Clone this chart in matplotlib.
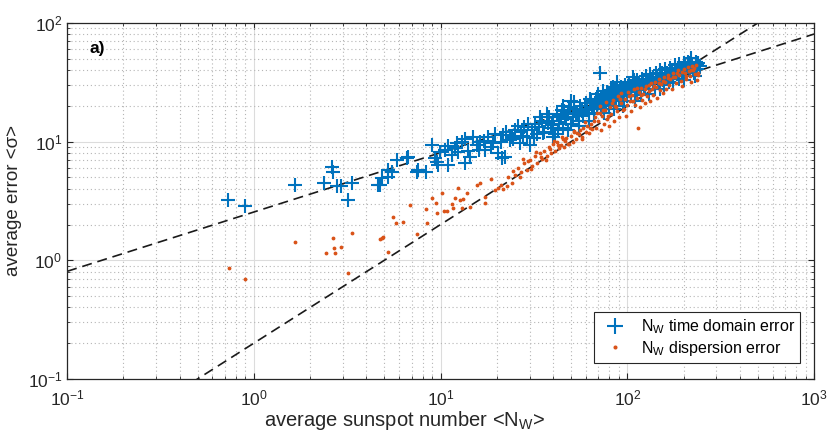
import numpy as np
import matplotlib
matplotlib.use("Agg")
import matplotlib.pyplot as plt

plt.rcParams['font.family'] = ['Liberation Sans', 'DejaVu Sans']
plt.rcParams['mathtext.fontset'] = 'custom'
plt.rcParams['mathtext.rm'] = 'Liberation Sans'
plt.rcParams['mathtext.it'] = 'Liberation Sans:italic'

# time domain error (blue crosses)
td_x = [0.73, 0.90, 1.66, 2.38, 2.62, 2.65, 2.79, 2.93, 3.36, 3.2, 4.63, 4.74, 4.85,
        5.2, 5.24, 5.5, 5.85, 6.6, 6.7, 7.5, 7.6, 8.4, 9.0, 9.3, 9.6, 9.7, 9.9,
        10.6, 10.9, 11.5, 12.3, 12.4, 13.0, 13.5, 14.4, 15.6, 16.3, 17.3, 18.0, 19.1,
        20.2, 21.3, 21.5, 22.0, 23.5, 24.0, 25.0, 26.5, 27.0, 28.0, 29.0, 30.0, 31.0,
        32.0, 33.0, 34.0, 35.0, 36.0, 37.5, 38.0, 39.0, 40.0, 40.0, 41.0, 42.0, 43.0,
        44.0, 45.0, 45.0, 46.0, 47.0, 48.0, 48.0, 50.0, 50.0, 51.0, 52.0, 52.0, 53.0,
        55.0, 55.0, 56.0, 57.0, 58.0, 60.0, 61.0, 62.0, 62.0, 64.0, 65.0, 66.0, 68.0,
        69.0, 70.0, 71.5, 72.0, 73.0, 75.0, 75.0, 76.0, 78.0, 79.0, 80.0, 82.0, 83.0,
        85.0, 85.0, 86.0, 88.0, 88.0, 90.0, 91.0, 93.0, 94.0, 95.0, 96.0, 97.0, 99.0,
        100.0, 102.0, 103.0, 105.0, 107.0, 108.0, 110.0, 110.0, 112.0, 113.0, 115.0,
        118.0, 120.0, 121.0, 124.0, 126.0, 128.0, 130.0, 130.0, 133.0, 135.0, 137.0,
        140.0, 142.0, 145.0, 147.0, 150.0, 150.0, 152.0, 155.0, 158.0, 160.0, 163.0,
        165.0, 168.0, 170.0, 173.0, 175.0, 176.0, 180.0, 182.0, 185.0, 188.0, 190.0,
        193.0, 196.0, 200.0, 200.0, 203.0, 206.0, 210.0, 213.0, 216.0, 220.0, 222.0,
        225.0, 228.0, 230.0, 232.0, 236.0, 240.0, 245.0,
        11.0, 12.0, 13.5, 14.0, 15.0, 16.0, 17.0, 18.5, 19.5, 21.0,
        22.5, 24.5, 26.0, 27.5, 29.5, 31.5, 33.5, 35.5, 37.0, 39.5,
        42.5, 44.5, 46.5, 49.0, 54.0, 59.0, 63.0, 67.0, 71.0, 74.0,
        77.0, 81.0, 84.0, 87.0, 92.0, 98.0, 104.0, 109.0, 116.0, 123.0,
        131.0, 138.0, 146.0, 154.0, 162.0, 171.0, 179.0, 187.0, 195.0, 205.0,
        215.0, 226.0, 235.0]
td_y = [3.2, 2.87, 4.3, 4.5, 6.1, 5.5, 4.2, 4.2, 4.5, 3.2, 4.3, 4.3, 4.9,
        5.0, 5.8, 5.5, 7.0, 7.3, 7.4, 5.5, 5.8, 5.5, 9.3, 7.3, 6.7, 6.3, 8.1,
        8.5, 6.3, 7.7, 9.8, 8.1, 9.9, 6.6, 7.4, 9.4, 9.9, 8.5, 10.9, 9.8,
        8.0, 7.3, 11.3, 7.4, 10.3, 11.0, 12.5, 9.8, 12.0, 13.2, 10.9, 9.4, 12.5,
        14.0, 11.5, 16.1, 15.0, 12.0, 14.4, 16.0, 13.0, 15.0, 11.0, 11.5, 17.0, 14.0,
        16.5, 13.0, 20.0, 18.0, 15.5, 17.0, 12.5, 14.0, 22.0, 16.0, 19.0, 21.5, 17.5,
        15.0, 13.5, 20.0, 18.0, 16.5, 21.0, 18.5, 17.0, 15.0, 22.0, 19.5, 17.5, 23.0,
        20.5, 25.0, 37.8, 19.0, 22.0, 24.0, 17.5, 21.0, 26.0, 23.0, 20.0, 27.0, 24.0,
        22.0, 19.0, 28.0, 31.8, 25.0, 23.0, 27.0, 29.0, 25.0, 20.0, 22.0, 30.0, 27.0,
        24.0, 31.0, 28.0, 26.0, 35.0, 32.0, 29.0, 22.0, 27.0, 33.0, 30.0,
        25.0, 34.0, 31.0, 28.0, 36.0, 33.0, 30.0, 25.0, 37.0, 34.0, 31.0,
        28.0, 38.0, 35.0, 32.0, 40.0, 28.0, 37.0, 33.0, 30.0, 41.0, 38.0,
        35.0, 32.0, 42.0, 39.0, 31.0, 36.0, 44.0, 40.0, 37.0, 34.0, 45.0,
        42.0, 38.0, 46.0, 33.0, 43.0, 39.0, 47.0, 44.0, 40.0, 51.0, 45.0,
        42.0, 38.0, 36.0, 47.0, 44.0, 46.0, 43.0,
        9.2, 8.8, 10.5, 8.3, 11.0, 8.5, 10.2, 9.0, 11.5, 10.0,
        12.0, 10.5, 13.5, 11.2, 14.0, 10.8, 13.2, 11.8, 17.0, 13.8,
        12.5, 18.5, 16.0, 19.5, 17.0, 19.0, 23.0, 21.0, 22.5, 26.5,
        20.5, 25.0, 29.0, 22.5, 26.0, 28.5, 24.0, 33.0, 28.0, 29.5,
        32.5, 35.0, 34.0, 37.5, 36.0, 40.0, 38.0, 42.0, 40.5, 41.0,
        46.0, 40.0, 41.0]

# dispersion error (red dots)
dp_x = [0.74, 0.90, 1.66, 2.44, 2.66, 2.69, 2.72, 2.93, 3.36, 3.2, 4.74, 4.85, 4.9,
        5.2, 5.55, 5.8, 6.3, 6.85, 7.5, 8.4, 8.5, 9.0, 9.5, 9.6,
        10.2, 10.4, 10.8, 11.5, 11.6, 11.9, 12.4, 12.7, 13.0, 13.2, 13.8, 14.3, 15.6,
        16.3, 17.2, 17.2, 20.2, 21.0, 21.5, 22.7, 24.0,
        25.0, 26.0, 27.0, 28.0, 29.0, 30.0, 31.0, 32.0, 33.0, 34.0, 35.0, 36.0, 37.0,
        38.0, 39.0, 40.0, 41.0, 42.0, 43.0, 44.0, 45.0, 46.0, 47.0, 48.0, 50.0, 51.0,
        52.0, 53.0, 55.0, 56.0, 57.0, 58.0, 60.0, 61.0, 62.0, 64.0, 65.0, 66.0,
        68.0, 69.0, 70.0, 71.0, 72.0, 73.0, 75.0, 76.0, 77.0, 78.0, 80.0, 81.0, 82.0,
        84.0, 85.0, 86.0, 88.0, 89.0, 90.0, 92.0, 93.0, 95.0, 97.0, 98.0, 100.0, 101.0,
        103.0, 105.0, 106.0, 108.0, 110.0, 112.0, 114.0, 115.0, 117.0, 119.0, 120.0,
        122.0, 124.0, 126.0, 128.0, 130.0, 132.0, 134.0, 136.0, 138.0, 140.0, 143.0,
        145.0, 147.0, 150.0, 152.0, 155.0, 157.0, 160.0, 162.0, 165.0, 168.0, 170.0,
        173.0, 176.0, 180.0, 183.0, 186.0, 190.0, 193.0, 196.0, 200.0, 203.0, 206.0,
        210.0, 213.0, 216.0, 220.0, 223.0, 226.0, 230.0, 233.0, 236.0, 240.0,
        18.5, 19.5, 23.0, 24.5, 26.5, 27.5, 29.5, 30.5, 32.5, 34.5,
        36.5, 38.5, 40.5, 42.5, 44.5, 46.5, 49.0, 51.5, 54.0, 57.5,
        59.0, 63.0, 67.0, 71.5, 74.0, 79.0, 83.0, 87.0, 91.0, 96.0,
        102.0, 107.0, 113.0, 118.0, 125.0, 131.0, 139.0, 148.0, 156.0, 166.0,
        175.0, 185.0, 195.0, 205.0, 218.0, 228.0, 238.0]
dp_y = [0.86, 0.70, 1.43, 1.15, 1.54, 1.27, 1.15, 1.29, 1.70, 0.78, 1.51, 1.54, 1.58,
        1.17, 2.32, 2.06, 2.1, 2.92, 1.67, 2.7, 2.06, 3.35, 3.05, 2.5,
        3.7, 2.6, 2.6, 3.0, 2.75, 3.35, 4.06, 3.2, 2.76, 3.3, 3.7, 2.8, 4.3,
        4.5, 3.05, 3.4, 4.06, 4.3, 4.0, 4.2, 4.5,
        5.2, 6.0, 5.5, 6.6, 5.8, 7.0, 6.2, 7.5, 6.6, 8.0, 7.1, 8.4, 7.6,
        9.0, 8.0, 9.5, 8.3, 10.0, 8.8, 9.3, 10.5, 9.0, 10.8, 9.6, 11.2, 10.0,
        12.0, 10.6, 11.5, 12.6, 11.0, 13.0, 12.0, 13.5, 11.8, 14.0, 12.8, 15.0,
        13.0, 17.5, 15.0, 20.0, 12.5, 16.5, 14.0, 18.5, 21.5, 15.5, 13.5, 19.5, 17.0,
        22.5, 15.0, 20.0, 18.0, 24.0, 16.0, 21.0, 25.5, 18.5, 23.0, 16.5, 20.5, 26.0,
        22.0, 18.0, 24.5, 27.5, 20.5, 23.5, 13.0, 26.0, 19.5, 28.5, 22.5,
        25.0, 21.0, 29.5, 24.0, 26.5, 22.0, 31.0, 27.5, 24.5, 32.0, 29.0,
        23.5, 34.0, 27.0, 30.5, 25.5, 35.0, 32.0, 28.0, 36.5, 30.0, 33.5,
        27.5, 38.0, 35.0, 31.0, 40.0, 36.5, 32.5, 29.5, 41.0, 38.0, 34.0,
        42.5, 39.0, 35.5, 31.5, 43.5, 40.0, 37.0, 44.0, 33.0, 38.0,
        4.8, 3.9, 5.0, 5.6, 5.0, 7.2, 6.8, 5.9, 8.2, 7.4,
        7.0, 8.6, 10.2, 9.4, 11.0, 10.2, 9.5, 12.3, 11.8, 10.5,
        14.5, 13.0, 16.0, 17.5, 18.5, 16.5, 21.0, 19.5, 23.0, 19.0,
        24.0, 22.0, 28.5, 24.5, 27.5, 30.0, 29.5, 31.0, 32.5, 34.5,
        35.0, 37.5, 38.5, 36.0, 40.5, 42.0, 36.5]

blue = '#0072BD'
red = '#D95319'
axcol = '#262626'

fig = plt.figure(figsize=(8.29, 4.33), dpi=100)
ax = fig.add_axes([0.081, 0.125, 0.901, 0.822])

# reference power laws
xf = np.array([0.1, 1000.0])
ax.plot(xf, 2.55 * np.sqrt(xf), color='#1a1a1a', lw=1.2, dashes=(6, 3.5), zorder=2)
ax.plot(xf, 0.2 * xf, color='#1a1a1a', lw=1.2, dashes=(6, 3.5), zorder=2)

ax.plot(td_x, td_y, '+', color=blue, ms=10, mew=1.5, ls='none', zorder=3,
        label=r'N$_{\mathrm{W}}$ time domain error')
ax.plot(dp_x, dp_y, '.', color=red, ms=3.5, ls='none', zorder=4,
        label=r'N$_{\mathrm{W}}$ dispersion error')

ax.set_xscale('log')
ax.set_yscale('log')
ax.set_xlim(0.1, 1000)
ax.set_ylim(0.1, 100)

ax.grid(True, which='major', color='#dcdcdc', lw=0.8, ls='-', zorder=0)
ax.grid(True, which='minor', color='#b5b5b5', lw=0.8, ls=(0, (1, 2.5)), zorder=0)
ax.set_axisbelow(True)

ax.tick_params(which='both', direction='in', top=True, right=True, colors=axcol,
               labelsize=12.5)
ax.tick_params(which='major', length=4)
ax.tick_params(which='minor', length=2.5)
ax.tick_params(axis='x', which='both', pad=7)
for s in ax.spines.values():
    s.set_color(axcol)
    s.set_linewidth(0.9)

ax.set_xlabel(r'average sunspot number <N$_{\mathrm{W}}$>', fontsize=14.5, color=axcol)
ax.xaxis.set_label_coords(0.452, -0.085)
ax.set_ylabel('average error <σ>', fontsize=13.5, color=axcol, labelpad=4)

ax.text(0.03, 0.927, 'a)', transform=ax.transAxes, fontsize=12.5, fontweight='bold',
        va='center', ha='left')

leg = ax.legend(loc='lower right', bbox_to_anchor=(0.981, 0.045), borderaxespad=0,
                fontsize=11.5, fancybox=False, framealpha=1, edgecolor=axcol,
                handletextpad=0.6, borderpad=0.3, labelspacing=0.2, markerscale=1.1)
leg.get_frame().set_linewidth(0.8)

fig.savefig('out.png', dpi=100)
